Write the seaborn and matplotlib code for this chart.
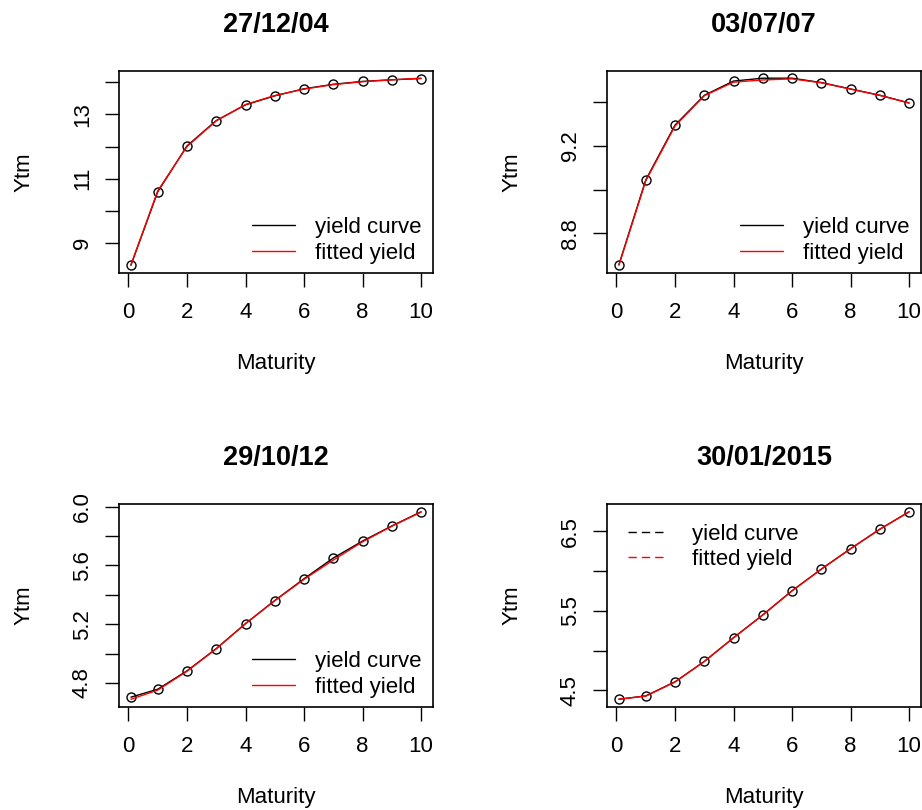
import matplotlib
matplotlib.use("Agg")
import matplotlib.pyplot as plt
from matplotlib.lines import Line2D
import seaborn as sns
import pandas as pd

# maturities (years), first one is the 1-month point
maturity = [0.083, 1, 2, 3, 4, 5, 6, 7, 8, 9, 10]

titles = ["27/12/04", "03/07/07", "29/10/12", "30/01/2015"]

ytm_2004 = [8.30, 10.59, 12.02, 12.81, 13.30, 13.58, 13.80, 13.94, 14.03, 14.08, 14.12]
fit_2004 = [8.31, 10.62, 12.00, 12.80, 13.31, 13.59, 13.79, 13.93, 14.02, 14.08, 14.13]

ytm_2007 = [8.658, 9.044, 9.294, 9.430, 9.495, 9.508, 9.508, 9.488, 9.459, 9.430, 9.395]
fit_2007 = [8.655, 9.040, 9.290, 9.428, 9.490, 9.500, 9.505, 9.487, 9.458, 9.430, 9.395]

ytm_2012 = [4.704, 4.758, 4.883, 5.034, 5.204, 5.361, 5.509, 5.650, 5.765, 5.868, 5.964]
fit_2012 = [4.690, 4.752, 4.880, 5.033, 5.204, 5.360, 5.505, 5.636, 5.760, 5.866, 5.962]

ytm_2015 = [4.386, 4.428, 4.605, 4.862, 5.161, 5.449, 5.753, 6.026, 6.283, 6.529, 6.748]
fit_2015 = [4.386, 4.425, 4.603, 4.862, 5.160, 5.448, 5.752, 6.025, 6.283, 6.528, 6.748]

x_ticks = [0, 2, 4, 6, 8, 10]
y_ticks = [
    [9, 10, 11, 12, 13, 14],
    [8.8, 9.0, 9.2, 9.4],
    [4.8, 5.0, 5.2, 5.4, 5.6, 5.8, 6.0],
    [4.5, 5.0, 5.5, 6.0, 6.5],
]
y_ticklabels = [
    ["9", "", "11", "", "13", ""],
    ["8.8", "", "9.2", ""],
    ["4.8", "", "5.2", "", "5.6", "", "6.0"],
    ["4.5", "", "5.5", "", "6.5"],
]

legend_labels = ["yield curve", "fitted yield"]

sns.set_theme(style="ticks")
plt.rcParams["font.family"] = ["Liberation Sans", "DejaVu Sans"]
plt.rcParams["axes.linewidth"] = 1.2
plt.rcParams["axes.edgecolor"] = "black"
plt.rcParams["text.color"] = "black"
plt.rcParams["axes.labelcolor"] = "black"
plt.rcParams["axes.titlecolor"] = "black"
plt.rcParams["xtick.color"] = "black"
plt.rcParams["ytick.color"] = "black"

fig = plt.figure(figsize=(9.22, 8.10), dpi=100)

# axes boxes in figure fraction (left, bottom, width, height)
boxes = [
    (0.1294, 0.6633, 0.3399, 0.2494),
    (0.6587, 0.6633, 0.3399, 0.2494),
    (0.1294, 0.1275, 0.3399, 0.2499),
    (0.6587, 0.1275, 0.3399, 0.2499),
]
series = [(ytm_2004, fit_2004), (ytm_2007, fit_2007),
          (ytm_2012, fit_2012), (ytm_2015, fit_2015)]

for i, (ytm, fit) in enumerate(series):
    ax = fig.add_axes(boxes[i])
    df = pd.DataFrame({"Maturity": maturity, "Ytm": ytm, "Fitted": fit})

    sns.lineplot(data=df, x="Maturity", y="Ytm", ax=ax, color="black",
                 linewidth=1.0, marker="o", markersize=6.5,
                 markerfacecolor="none", markeredgecolor="black",
                 markeredgewidth=1.0)
    sns.lineplot(data=df, x="Maturity", y="Fitted", ax=ax, color="red",
                 linewidth=1.0)

    ax.margins(x=0.04, y=0.04)
    ax.set_xticks(x_ticks)
    ax.set_yticks(y_ticks[i])
    ax.set_yticklabels(y_ticklabels[i], rotation=90, va="center")
    ax.tick_params(direction="out", length=10, width=1.0,
                   labelsize=16, color="black", labelcolor="black")
    ax.tick_params(axis="x", pad=11)
    ax.tick_params(axis="y", pad=9)

    ax.set_xlabel("Maturity", fontsize=16, labelpad=22)
    ax.set_ylabel("Ytm", fontsize=16, labelpad=27)
    ax.set_title(titles[i], fontsize=19.5, fontweight="bold", pad=28)

    for s in ax.spines.values():
        s.set_visible(True)
        s.set_color("black")

    if i < 3:
        handles = [Line2D([], [], color="black", lw=1.0),
                   Line2D([], [], color="red", lw=1.0)]
        ax.legend(handles, legend_labels, loc="lower right",
                  bbox_to_anchor=(0.965, 0.045), frameon=False,
                  borderpad=0, borderaxespad=0, handlelength=1.95,
                  handletextpad=0.9, labelspacing=0.2, fontsize=16)
    else:
        handles = [Line2D([], [], color="black", lw=1.0, dashes=(6, 3.6)),
                   Line2D([], [], color="red", lw=1.0, dashes=(6, 3.6))]
        ax.legend(handles, legend_labels, loc="upper left",
                  bbox_to_anchor=(0.065, 0.905), frameon=False,
                  borderpad=0, borderaxespad=0, handlelength=1.75,
                  handletextpad=1.15, labelspacing=0.2, fontsize=16)

fig.savefig("out.png", dpi=100)
plt.close(fig)
